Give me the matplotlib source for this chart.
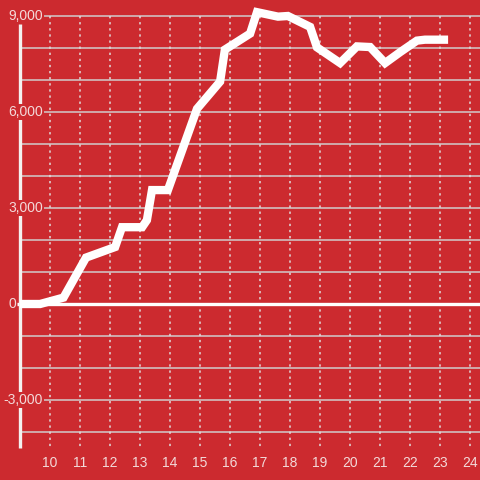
import matplotlib
matplotlib.use("Agg")
import matplotlib.pyplot as plt

# hour of day vs value
hours = [9.0, 9.67, 10.45, 11.2, 12.17, 12.4, 13.07, 13.23, 13.4, 13.93,
         14.9, 15.67, 15.83, 16.67, 16.9, 17.6, 17.93, 18.67, 18.9, 19.67,
         20.23, 20.67, 21.17, 21.67, 22.23, 22.5, 23.27]
values = [0, 0, 200, 1450, 1780, 2400, 2400, 2620, 3560, 3560,
          6100, 6950, 7950, 8450, 9120, 8980, 9000, 8660, 8020, 7530,
          8050, 8030, 7530, 7870, 8230, 8260, 8260]

x_ticks = list(range(10, 25))
y_grid = list(range(-4000, 10000, 1000))
y_labels = [9000, 6000, 3000, 0, -3000]

bg = "#cc2a2f"
txt = "#f3d9d9"

fig = plt.figure(figsize=(4.8, 4.8), dpi=100, facecolor=bg)
ax = fig.add_axes([0, 0, 1, 1])
ax.set_facecolor(bg)
ax.set_xlim(9 - 20 / 30, 9 + 460 / 30)
ax.set_ylim(-5500, 9500)
ax.axis("off")

# grid
for y in y_grid:
    ax.plot([9, 25], [y, y], color="#d0cccc", lw=1.1, zorder=1)
for x in x_ticks:
    ax.plot([x, x], [9000, -4500], color="#e0dcdc", lw=1.1,
            linestyle=(0, (1.5, 2.5)), zorder=1)

# zero line and axis
ax.plot([9 - 3 / 30, 25], [0, 0], color="white", lw=2.4, zorder=2,
        solid_capstyle="butt")
ax.plot([9, 9], [8750, -4500], color="#f4f0f0", lw=2.4, zorder=2,
        solid_capstyle="butt")

# data
ax.plot(hours, values, color="white", lw=6, zorder=3,
        solid_capstyle="butt", solid_joinstyle="miter")

# labels
for y in y_labels:
    if y == 0:
        xpos = 9 - 4 / 30
    else:
        xpos = 9 + 23 / 30
    ax.text(xpos, y, f"{y:,}", ha="right", va="center", color=txt,
            fontsize=10, family="Liberation Sans", zorder=4,
            bbox=dict(facecolor=bg, edgecolor="none", pad=1.0))
for x in x_ticks:
    ax.text(x, -4970, str(x), ha="center", va="center", color=txt,
            fontsize=10, family="Liberation Sans", zorder=4)

fig.savefig("out.png", dpi=100, facecolor=bg)
